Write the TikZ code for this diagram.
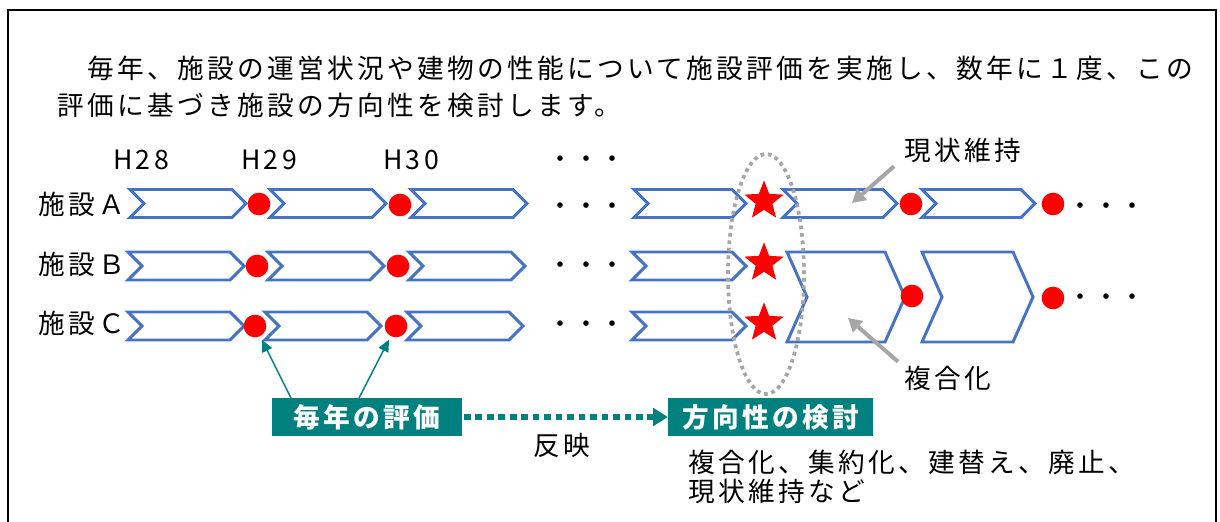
\documentclass[tikz,border=0pt]{standalone}
\usepackage{fontspec}
\setmainfont{Noto Sans CJK JP}[LetterSpace=12.5]
\newfontfamily\jpd{Noto Sans CJK JP}
\usetikzlibrary{shapes.geometric,arrows.meta}
\definecolor{chevblue}{HTML}{4472C4}
\definecolor{tealbox}{HTML}{00807F}
\definecolor{agray}{HTML}{A6A6A6}
\newcommand\chev[5]{\draw[chev] (#1,#3-#4) -- (#2-#5,#3-#4) -- (#2,#3) -- (#2-#5,#3+#4) -- (#1,#3+#4) -- (#1+#5,#3) -- cycle;}
\begin{document}
\begin{tikzpicture}[x=0.75pt,y=-0.75pt,
  every node/.style={inner sep=0pt, outer sep=0pt},
  txt/.style={font=\fontsize{20pt}{24pt}\selectfont},
  dotsrow/.style={font=\jpd\fontsize{19.5pt}{24pt}\selectfont},
  chev/.style={draw=chevblue, line width=2.2pt, line join=miter},
  evdot/.style={circle, fill=red, minimum size=17pt},
  starnode/.style={star, star points=5, star point ratio=2.35, fill=red, minimum size=31pt},
  tbox/.style={fill=tealbox, text=white, minimum height=28.5pt, font=\fontsize{20pt}{24pt}\selectfont\bfseries},
  garrow/.style={draw=agray, line width=3pt, -{Triangle[length=10pt,width=11pt]}},
  tarrow/.style={draw=tealbox, line width=1.1pt, -{Triangle[length=9pt,width=8pt]}},
  darrow/.style={draw=tealbox, line width=5pt, dash pattern=on 5pt off 3.6pt, -{Triangle[length=11pt,width=13pt]}},
  frame/.style={draw=black, line width=2pt, line join=miter}
]
\useasboundingbox (0,0) rectangle (1220,521);
\draw[frame] (8,525) -- (8,10) -- (1216,10) -- (1216,525);

% title
\node[txt, anchor=west] (t1) at (87,68) {毎年、施設の運営状況や建物の性能について施設評価を実施し、数年に１度、この};
\node[txt, anchor=west] (t2) at (57,105) {評価に基づき施設の方向性を検討します。};

% years
\node[txt] (h28) at (141,160) {H28};
\node[txt] (h29) at (269,160) {H29};
\node[txt] (h30) at (411,160) {H30};
\node[dotsrow] (d0) at (586,162) {・・・};

% row labels
\node[txt, anchor=west] (la) at (38,204) {施設Ａ};
\node[txt, anchor=west] (lb) at (38,264) {施設Ｂ};
\node[txt, anchor=west] (lc) at (38,323) {施設Ｃ};

% row A
\chev{130}{246}{203.5}{14}{14}
\chev{270}{386}{203.5}{14}{14}
\chev{411}{527}{203.5}{14}{14}
\chev{634}{746}{203.5}{14}{14}
\chev{783}{897}{203.5}{14}{14}
\chev{922}{1035}{203.5}{14}{14}
% row B
\chev{128}{244}{266}{14}{14}
\chev{268}{384}{266}{14}{14}
\chev{409}{525}{266}{14}{14}
\chev{632}{746}{266}{14}{14}
% row C
\chev{128}{244}{326}{14}{14}
\chev{265}{381}{326}{14}{14}
\chev{407}{523}{326}{14}{14}
\chev{632}{746}{326}{14}{14}
% merged B+C
\chev{787}{905}{297}{45}{20}
\chev{922}{1033}{297}{45}{20}

% evaluation dots
\node[evdot] (a1) at (259,204) {};
\node[evdot] (a2) at (400,205) {};
\node[evdot] (a3) at (911,204) {};
\node[evdot] (a4) at (1053,204) {};
\node[evdot] (b1) at (257,266) {};
\node[evdot] (b2) at (398,266) {};
\node[evdot] (c1) at (255,326) {};
\node[evdot] (c2) at (396,326) {};
\node[evdot] (bc1) at (912,296) {};
\node[evdot] (bc2) at (1053,298) {};

% ellipses of dots
\node[dotsrow] (da) at (586,209) {・・・};
\node[dotsrow] (db) at (586,268) {・・・};
\node[dotsrow] (dc) at (586,327) {・・・};
\node[dotsrow] (da2) at (1106,209) {・・・};
\node[dotsrow] (dbc2) at (1106,300) {・・・};

% stars
\node[starnode] (sa) at (764,201) {};
\node[starnode] (sb) at (764,263) {};
\node[starnode] (sc) at (764,323) {};

% dotted ellipse
\node[ellipse, draw=agray, line width=2.8pt, dash pattern=on 2.8pt off 2.8pt, minimum width=57pt, minimum height=180pt] (ell) at (766,274) {};

% labels with gray arrows
\node[txt, anchor=west] (gen) at (904,150) {現状維持};
\node[txt, anchor=west] (fuku) at (904,378) {複合化};
\coordinate (genend) at (852,203);
\coordinate (fukuend) at (848,318);
\draw[garrow] (gen.south west) ++(-10,4) -- (genend);
\draw[garrow] (fuku.north west) ++(-6,-4) -- (fukuend);

% boxes
\node[tbox, minimum width=142.5pt] (e1) at (367,417) {毎年の評価};
\node[tbox, minimum width=154pt] (e2) at (770.5,417) {方向性の検討};
\draw[darrow] (e1.east) ++(2,0) -- (e2.west);
\node[txt] (han) at (562,445) {反映};
\draw[tarrow, shorten >=3pt] ([xshift=-57pt]e1.north) -- (c1);
\draw[tarrow, shorten >=3pt] ([xshift=-6pt]e1.north) -- (c2);

\node[txt, anchor=west] (opt1) at (688,462) {複合化、集約化、建替え、廃止、};
\node[txt, anchor=west] (opt2) at (688,491) {現状維持など};
\end{tikzpicture}
\end{document}
